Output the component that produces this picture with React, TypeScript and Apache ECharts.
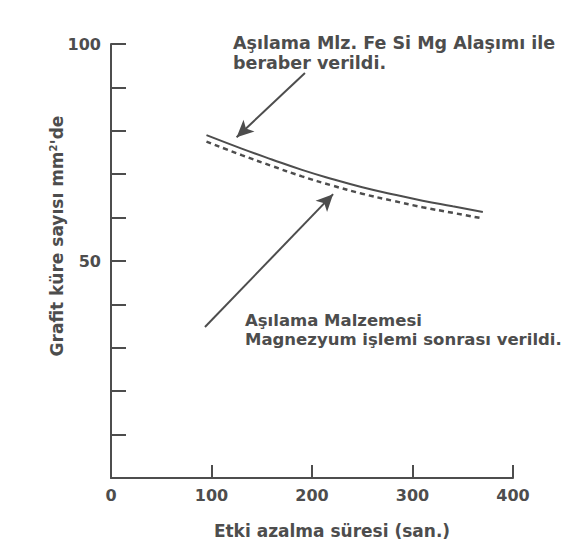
import React, { useEffect, useRef } from "react";
import * as echarts from "echarts";

// Etki azalma süresi (san.) for the sampled points
const sureler = [95, 130, 160, 190, 220, 250, 280, 310, 340, 370];
// Aşılama malzemesi Fe Si Mg alaşımı ile beraber verildi
const alasimIle = [79.0, 75.9, 73.4, 71.0, 68.9, 67.0, 65.4, 63.9, 62.6, 61.3];
// Aşılama malzemesi magnezyum işlemi sonrası verildi
const islemSonrasi = [77.5, 74.4, 71.9, 69.5, 67.4, 65.5, 63.9, 62.4, 61.1, 59.8];

const yEtiketleri = [100, 50];

// Ok başlangıç / bitiş noktaları (eksen birimleriyle)
const ok1 = [[193, 93.3], [125, 78.5]];
const ok2 = [[93.5, 34.8], [221, 65.4]];

const INK = "#4d4d4d";
const FONT = "DejaVu Sans, Verdana, sans-serif";

export default function App() {
  const ref = useRef<HTMLDivElement>(null);

  useEffect(() => {
    document.body.style.margin = "0";
    if (!ref.current) return;
    const chart = echarts.init(ref.current, undefined, { renderer: "svg" });

    const arrowLine = (pts: number[][]) => ({
      silent: true,
      symbol: ["none", "arrow"],
      symbolSize: [12, 17],
      label: { show: false },
      lineStyle: { color: INK, width: 2, type: "solid" as const },
      data: [[{ coord: pts[0] }, { coord: pts[1] }]],
    });

    chart.setOption({
      animation: false,
      backgroundColor: "#ffffff",
      grid: { left: 111, top: 44, right: 58, bottom: 77 },
      xAxis: {
        type: "value",
        min: 0,
        max: 400,
        interval: 100,
        splitLine: { show: false },
        axisLine: { lineStyle: { color: INK, width: 2 } },
        axisTick: { inside: true, length: 13, lineStyle: { color: INK, width: 2 } },
        axisLabel: {
          color: INK,
          fontSize: 16,
          fontWeight: "bold",
          fontFamily: FONT,
          margin: 9,
          hideOverlap: false,
          showMinLabel: true,
          showMaxLabel: true,
        },
        name: "Etki azalma süresi (san.)",
        nameLocation: "middle",
        nameGap: 44,
        nameTextStyle: {
          color: INK,
          fontSize: 17,
          fontWeight: "bold",
          fontFamily: FONT,
          padding: [0, 0, 0, 40],
        },
      },
      yAxis: {
        type: "value",
        min: 0,
        max: 100,
        interval: 10,
        splitLine: { show: false },
        axisLine: { lineStyle: { color: INK, width: 2 } },
        axisTick: { inside: true, length: 15, lineStyle: { color: INK, width: 2 } },
        axisLabel: {
          color: INK,
          fontSize: 16,
          fontWeight: "bold",
          fontFamily: FONT,
          margin: 10,
          formatter: (v: number) => (yEtiketleri.includes(v) ? String(v) : ""),
        },
      },
      series: [
        {
          type: "line",
          name: "Fe Si Mg alaşımı ile",
          data: sureler.map((x, i) => [x, alasimIle[i]]),
          smooth: true,
          showSymbol: false,
          lineStyle: { color: INK, width: 2 },
          markLine: arrowLine(ok1),
        },
        {
          type: "line",
          name: "Mg işlemi sonrası",
          data: sureler.map((x, i) => [x, islemSonrasi[i]]),
          smooth: true,
          showSymbol: false,
          lineStyle: { color: INK, width: 2.5, type: [5, 4] },
          markLine: arrowLine(ok2),
        },
      ],
      graphic: [
        {
          type: "text",
          x: 57,
          y: 236,
          rotation: Math.PI / 2,
          style: {
            text: "Grafit küre sayısı mm{sup|2}'de",
            fill: INK,
            font: `bold 17px ${FONT}`,
            align: "center",
            verticalAlign: "middle",
            rich: {
              sup: { font: `bold 10px ${FONT}`, fill: INK, verticalAlign: "top", padding: [0, 0, 8, 0] },
            },
          },
        },
        {
          type: "text",
          x: 233,
          y: 33,
          style: {
            text: "Aşılama Mlz. Fe Si Mg Alaşımı ile\nberaber verildi.",
            fill: INK,
            font: `bold 17.5px ${FONT}`,
            lineHeight: 20,
          },
        },
        {
          type: "text",
          x: 245,
          y: 311,
          style: {
            text: "Aşılama Malzemesi\nMagnezyum işlemi sonrası verildi.",
            fill: INK,
            font: `bold 16.5px ${FONT}`,
            lineHeight: 19,
          },
        },
      ],
    });

    return () => chart.dispose();
  }, []);

  return <div ref={ref} style={{ width: 571, height: 555 }} />;
}
